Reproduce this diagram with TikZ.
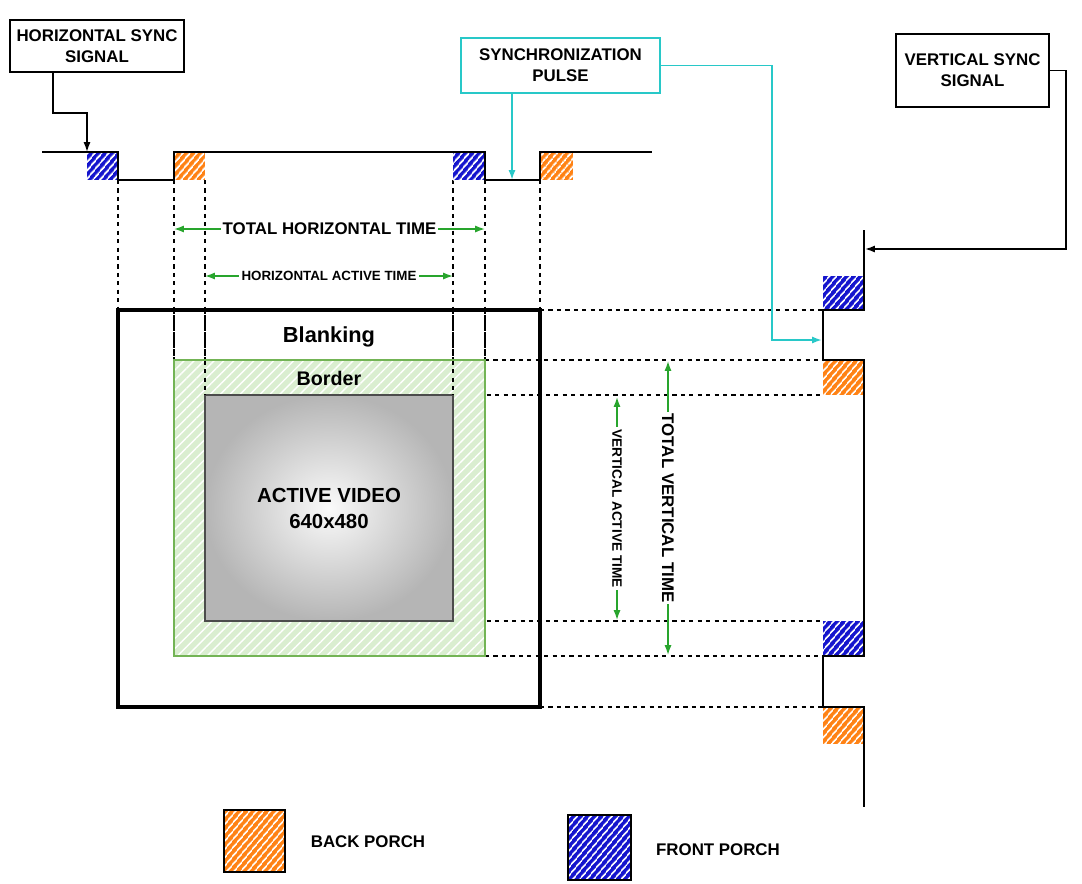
\documentclass[tikz,border=0pt]{standalone}
\usepackage{fontspec}
\setmainfont{Liberation Sans}
\usetikzlibrary{arrows.meta,calc,patterns.meta}

\definecolor{porchorange}{RGB}{255,130,20}
\definecolor{porchblue}{RGB}{20,20,205}
\definecolor{pulsecyan}{RGB}{40,200,200}
\definecolor{timegreen}{RGB}{40,165,45}
\definecolor{bordergreen}{RGB}{115,180,85}
\definecolor{borderfill}{RGB}{218,238,208}

\tikzset{
  hatch/.style={postaction={pattern={Lines[angle=50,distance=4pt,line width=1.3pt]},pattern color=white}},
  backporch/.style={fill=porchorange, hatch},
  frontporch/.style={fill=porchblue, hatch},
  wave/.style={line width=1.1pt},
  guide/.style={line width=1pt, dash pattern=on 3pt off 3pt},
  timearrow/.style={timegreen, line width=1pt, {Latex[length=7pt,width=5pt]}-{Latex[length=7pt,width=5pt]}},
  timelabel/.style={fill=white, text=black, inner sep=1.5pt, font=\bfseries\fontsize{12}{14}\selectfont},
  labelbox/.style={draw, line width=1.1pt, align=center, inner sep=0pt, font=\bfseries\fontsize{12}{15}\selectfont},
  legendtext/.style={font=\bfseries\fontsize{12}{14}\selectfont},
}

\begin{document}
\begin{tikzpicture}[x=0.025cm, y=-0.025cm, >={Latex[length=7pt,width=5pt]}, line join=miter]
  \useasboundingbox (0,0) rectangle (1082,883);

  % screen corners
  \coordinate (BL1) at (118,310);
  \coordinate (BL2) at (540,707);
  \coordinate (BD1) at (174,360);
  \coordinate (BD2) at (485,656);
  \coordinate (AV1) at (205,395);
  \coordinate (AV2) at (453,621);

  % dashed guides
  \foreach \x/\y in {118/310, 174/360, 205/395, 453/395, 485/360, 540/310}
    \draw[guide] (\x,180) -- (\x,\y);
  \foreach \y/\x in {310/540, 360/485, 395/453, 621/453, 656/485, 707/540}
    \draw[guide] (\x,\y) -- (823,\y);

  % screen
  \path[fill=borderfill, postaction={pattern={Lines[angle=45,distance=5pt,line width=1pt]},pattern color=white}] (BD1) rectangle (BD2);
  \draw[bordergreen, line width=1.3pt] (BD1) rectangle (BD2);
  \shade[inner color=gray!4, outer color=gray!58] (AV1) rectangle (AV2);
  \draw[gray!60!black, line width=0.8pt] (AV1) rectangle (AV2);
  \draw[line width=2.2pt] (BL1) rectangle (BL2);
  \foreach \x/\y in {118/310, 174/360, 205/395, 453/395, 485/360, 540/310}
    \draw[guide] (\x,310) -- (\x,\y);

  \node[font=\bfseries\fontsize{15.5}{18}\selectfont] (blank) at (329,337) {Blanking};
  \node[font=\bfseries\fontsize{14}{16}\selectfont] (bord) at (329,378) {Border};
  \node[font=\bfseries\fontsize{14.5}{18.5}\selectfont, align=center] (video) at (329,508) {ACTIVE VIDEO\\640x480};

  % horizontal sync waveform
  \fill[frontporch] (87,152) rectangle (118,180);
  \fill[backporch] (174,152) rectangle (205,180);
  \fill[frontporch] (453,152) rectangle (485,180);
  \fill[backporch] (540,152) rectangle (573,180);
  \draw[wave] (42,152) -- (118,152) -- (118,180) -- (174,180) -- (174,152) -- (485,152)
    -- (485,180) -- (540,180) -- (540,152) -- (652,152);

  % vertical sync waveform
  \fill[frontporch] (823,276) rectangle (864,310);
  \fill[backporch] (823,360) rectangle (864,395);
  \fill[frontporch] (823,621) rectangle (864,656);
  \fill[backporch] (823,707) rectangle (864,744);
  \draw[wave] (864,230) -- (864,310) -- (823,310) -- (823,360) -- (864,360) -- (864,656)
    -- (823,656) -- (823,707) -- (864,707) -- (864,807);

  % timing arrows
  \draw[timearrow] (174,229) -- node[timelabel] (thTime) {TOTAL HORIZONTAL TIME} (485,229);
  \draw[timearrow] (205,276) -- node[timelabel, font=\bfseries\fontsize{9.5}{11}\selectfont] (ahTime) {HORIZONTAL ACTIVE TIME} (453,276);
  \draw[timearrow] (668,361) -- node[timelabel, rotate=-90] (tvTime) {TOTAL VERTICAL TIME} (668,655);
  \draw[timearrow] (617,397) -- node[timelabel, rotate=-90, font=\bfseries\fontsize{9.7}{11}\selectfont] (avTime) {VERTICAL ACTIVE TIME} (617,620);

  % signal boxes
  \node[labelbox, minimum width=4.35cm, minimum height=1.3cm] (hsync) at (97,46) {HORIZONTAL SYNC\\SIGNAL};
  \node[labelbox, draw=pulsecyan, minimum width=4.975cm, minimum height=1.375cm] (pulse) at (560.5,65.5) {SYNCHRONIZATION\\PULSE};
  \node[labelbox, minimum width=3.825cm, minimum height=1.825cm] (vsync) at (972.5,70.5) {VERTICAL SYNC\\SIGNAL};

  \coordinate (hsDrop) at (53,113);
  \coordinate (hsTip) at (87,152);
  \draw[wave, ->] (hsync.south -| hsDrop) -- (hsDrop) -| (hsTip);

  \coordinate (puTip) at (512,180);
  \coordinate (puTurn) at (772,340);
  \coordinate (puEnd) at (822,340);
  \draw[pulsecyan, line width=1.3pt, ->] (pulse.south -| puTip) -- (puTip);
  \draw[pulsecyan, line width=1.3pt, ->] (pulse.east) -| (puTurn) -- (puEnd);

  \coordinate (vsTurn) at (1066,249);
  \coordinate (vsTip) at (865,249);
  \draw[wave, ->] (vsync.east) -| (vsTurn) -- (vsTip);

  % legend
  \path[backporch, postaction={draw, line width=1.3pt}] (224,810) rectangle (285,872);
  \node[legendtext] (bpText) at (368,842) {BACK PORCH};
  \path[frontporch, postaction={draw, line width=1.3pt}] (568,815) rectangle (631,880);
  \node[legendtext] (fpText) at (718,850) {FRONT PORCH};
\end{tikzpicture}
\end{document}
